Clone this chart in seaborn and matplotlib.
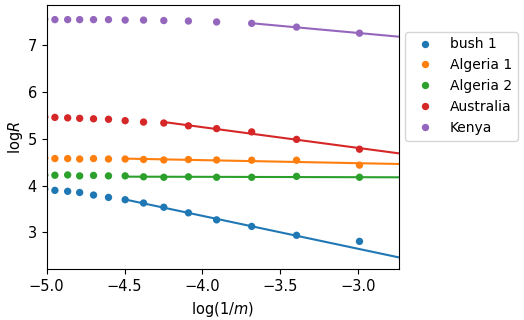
import numpy as np
import pandas as pd
import matplotlib
matplotlib.use('Agg')
import matplotlib.pyplot as plt
import seaborn as sns

# ── data ──────────────────────────────────────────────────────────────────────
log_inv_m = [-5.012, -4.947, -4.865, -4.788, -4.699, -4.603, -4.496,
             -4.378, -4.248, -4.090, -3.909, -3.684, -3.396, -2.992]

series = ['bush 1', 'Algeria 1', 'Algeria 2', 'Australia', 'Kenya']
bush1 = [3.925, 3.90, 3.88, 3.855, 3.80, 3.75, 3.70,
         3.63, 3.54, 3.42, 3.27, 3.13, 2.94, 2.81]
algeria1 = [4.59, 4.58, 4.58, 4.57, 4.58, 4.57, 4.57,
            4.56, 4.55, 4.56, 4.55, 4.545, 4.545, 4.44]
algeria2 = [4.23, 4.224, 4.23, 4.21, 4.22, 4.21, 4.21,
            4.19, 4.18, 4.19, 4.18, 4.18, 4.20, 4.18]
australia = [5.47, 5.46, 5.45, 5.44, 5.43, 5.42, 5.39,
             5.36, 5.34, 5.28, 5.22, 5.15, 4.99, 4.78]
kenya = [7.56, 7.55, 7.55, 7.55, 7.55, 7.55, 7.54,
         7.54, 7.53, 7.52, 7.50, 7.47, 7.39, 7.26]

# range of log(1/m) used for the straight-line fit of each series
fit_from = [-4.496, -4.496, -4.496, -4.248, -3.684]
fit_to = [-3.396, -2.992, -2.992, -2.992, -2.992]

x_lim = (-5.0, -2.74)
y_lim = (2.21, 7.86)

# ── long-form table ───────────────────────────────────────────────────────────
df = pd.DataFrame({
    'x': log_inv_m * len(series),
    'y': bush1 + algeria1 + algeria2 + australia + kenya,
    'sample': np.repeat(series, len(log_inv_m)),
})

fits = []
for name, lo, hi in zip(series, fit_from, fit_to):
    sub = df[(df['sample'] == name) & (df['x'] >= lo - 1e-6) & (df['x'] <= hi + 1e-6)]
    k, b = np.polyfit(sub['x'], sub['y'], 1)
    xs = np.array([lo, x_lim[1]])
    fits.append(pd.DataFrame({'x': xs, 'y': k * xs + b, 'sample': name}))
fit_df = pd.concat(fits, ignore_index=True)

palette = dict(zip(series, sns.color_palette('tab10', len(series))))

# ── plot ──────────────────────────────────────────────────────────────────────
fig, ax = plt.subplots(figsize=(5.24, 3.2), dpi=100)
fig.subplots_adjust(left=0.089, right=0.761, top=0.984, bottom=0.158)

sns.scatterplot(data=df, x='x', y='y', hue='sample', hue_order=series,
                palette=palette, s=28, edgecolor='none', ax=ax)
sns.lineplot(data=fit_df, x='x', y='y', hue='sample', hue_order=series,
             palette=palette, linewidth=1.5, legend=False, ax=ax)

ax.set_xlim(*x_lim)
ax.set_ylim(*y_lim)
ax.set_xticks([-5.0, -4.5, -4.0, -3.5, -3.0])
ax.set_yticks([3, 4, 5, 6, 7])
ax.tick_params(labelsize=10.5)
ax.set_xlabel('log(1/$m$)', fontsize=10.5)
ax.set_ylabel('log$R$', fontsize=10.5, labelpad=2)

ax.legend(title=None, loc='upper left', bbox_to_anchor=(1.019, 0.899),
          borderaxespad=0, fontsize=10)

fig.savefig('out.png', dpi=100)
